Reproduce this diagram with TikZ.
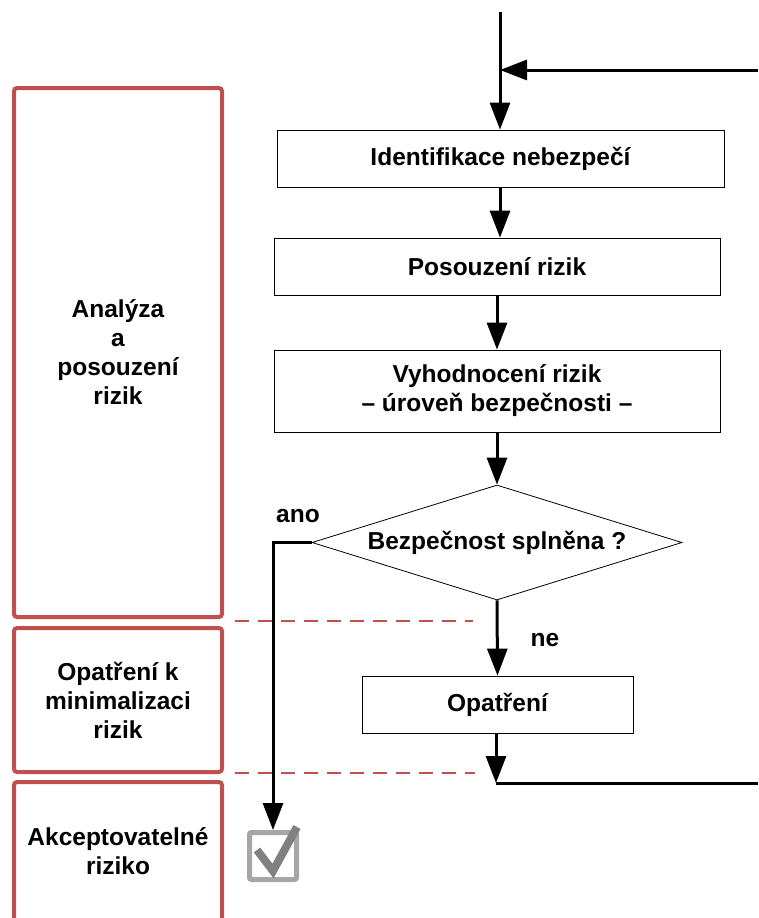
\documentclass[tikz,border=0pt]{standalone}
\usepackage{fontspec}
\setmainfont{Liberation Sans}
\usetikzlibrary{arrows.meta,shapes.geometric}

\definecolor{lanered}{HTML}{C0504D}
\definecolor{chkframe}{HTML}{A6A6A6}
\definecolor{chkmark}{HTML}{808080}

\begin{document}
\begin{tikzpicture}[x=1pt,y=-1pt,
  every node/.style={font=\bfseries\fontsize{24.5}{29}\selectfont, align=center},
  stepbox/.style={draw=black, line width=0.8pt, inner sep=0pt},
  lane/.style={draw=lanered, line width=4pt, rounded corners=3pt, inner sep=0pt, minimum width=208pt},
  flow/.style={line width=3pt},
  arr/.style={flow, -{Triangle[length=27pt,width=20pt]}},
  sepline/.style={draw=lanered, line width=1.3pt, dash pattern=on 14pt off 9pt}
]
\useasboundingbox (0,0) rectangle (758,918);

% swimlanes on the left
\node[lane, minimum height=529pt] (laneA) at (118,352.5) {Analýza\\a\\posouzení\\rizik};
\node[lane, minimum height=144pt] (laneB) at (118,700) {Opatření k\\minimalizaci\\rizik};
\node[lane, minimum height=150pt, anchor=north] (laneC) at (118,780) {};
\node (laneCtext) at (118,851) {Akceptovatelné\\riziko};

% lane separators
\coordinate (s1a) at (235,621); \coordinate (s1b) at (473,621);
\coordinate (s2a) at (235,773); \coordinate (s2b) at (475,773);
\draw[sepline] (s1a) -- (s1b);
\draw[sepline] (s2a) -- (s2b);

% process steps
\node[stepbox, minimum width=447pt, minimum height=57pt] (b1) at (500.5,158.5) {Identifikace nebezpečí};
\node[stepbox, minimum width=446pt, minimum height=57pt] (b2) at (497,266.5) {Posouzení rizik};
\node[stepbox, minimum width=446pt, minimum height=82pt] (b3) at (497,391) {Vyhodnocení rizik\\– úroveň bezpečnosti –};
\node[draw=black, line width=0.8pt, diamond, aspect=3.2, inner sep=0pt,
      minimum width=370pt, minimum height=115pt] (dia) at (497,542.5) {Bezpečnost splněna ?};
\node[stepbox, minimum width=271pt, minimum height=57pt] (b4) at (497.5,704.5) {Opatření};

% accepted-risk check box
\node[draw=chkframe, line width=5pt, rounded corners=2pt, minimum size=47pt, inner sep=0pt] (chk) at (273,856) {};
\coordinate (ck1) at (257,850); \coordinate (ck2) at (273,871); \coordinate (ck3) at (297,827);
\draw[chkmark, line width=8pt] (ck1) -- (ck2) -- (ck3);

% labels
\node (ano) at (298,516) {ano};
\node (ne) at (545,640) {ne};

% connectors
\coordinate (top) at (500,12);
\coordinate (retin) at (758,70);
\coordinate (merge) at (500,70);
\coordinate (join) at (496,783);
\coordinate (retout) at (758,783);

\draw[arr] (top) -- (top |- b1.north);
\draw[arr] (retin) -- (merge);
\draw[arr] (top |- b1.south) -- (top |- b2.north);
\draw[arr] (b2.south) -- (b3.north);
\draw[arr] (b3.south) -- (dia.north);
\draw[arr] (dia.south) -- (b4.north);
\draw[arr] (join |- b4.south) -- (join);
\draw[flow] (join) -- (retout);
\draw[arr] (dia.west) -| (chk.north);
\end{tikzpicture}
\end{document}
